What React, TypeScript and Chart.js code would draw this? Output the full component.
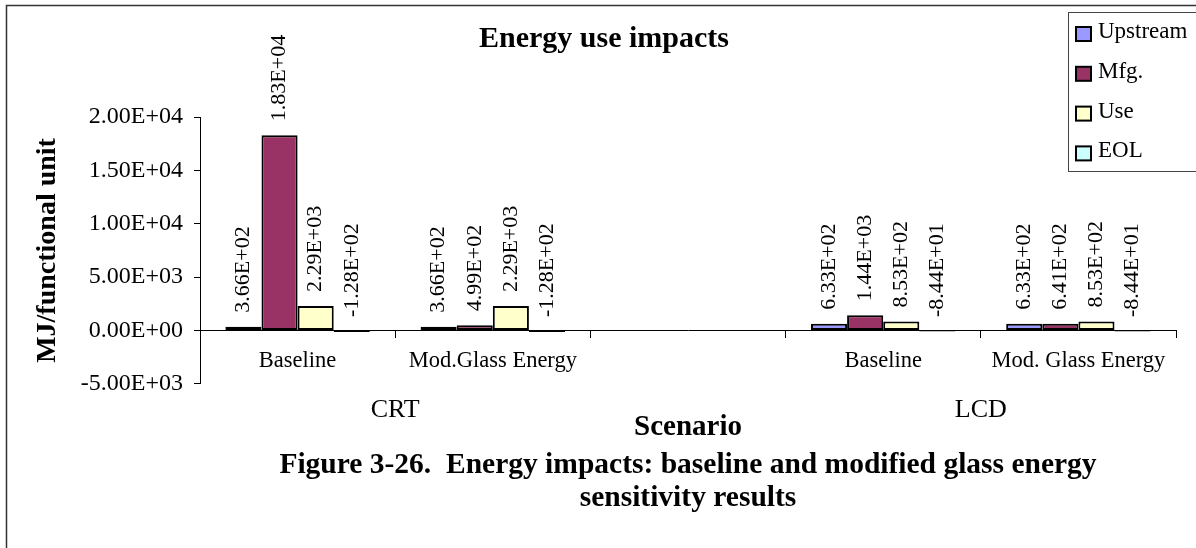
import React, { useEffect, useRef } from "react";
import { Chart, registerables } from "chart.js";

Chart.register(...registerables);

// ---------- data ----------
const categories = ["Baseline", "Mod.Glass Energy", "", "Baseline", "Mod. Glass Energy"];
const groupLabels = ["CRT", "LCD"];
const groupSpans: number[][] = [
  [0, 1],
  [3, 4],
];
const seriesNames = ["Upstream", "Mfg.", "Use", "EOL"];
const upstream = [366, 366, null, 633, 633];
const mfg = [18300, 499, null, 1440, 641];
const use = [2290, 2290, null, 853, 853];
const eol = [-128, -128, null, -84.4, -84.4];
const yTicks = [-5000, 0, 5000, 10000, 15000, 20000];
const seriesColors = ["#9999FF", "#993366", "#FFFFCC", "#CCFFFF"];
const chartTitle = "Energy use impacts";
const yTitle = "MJ/functional unit";
const xTitle = "Scenario";
const caption = [
  "Figure 3-26.  Energy impacts: baseline and modified glass energy",
  "sensitivity results",
];

const FAMILY = '"Liberation Serif", "Times New Roman", serif';

function sci(v: number): string {
  const [m, e] = v.toExponential(2).split("e");
  const sign = e[0] === "-" ? "-" : "+";
  const digits = e.replace(/^[+-]/, "").padStart(2, "0");
  return `${m}E${sign}${digits}`;
}

const groupCenter = (span: number[]) => (span[0] + span[1] + 1) / 2;

const decorPlugin = {
  id: "decor",
  beforeDraw(chart: any) {
    const ctx = chart.ctx;
    ctx.save();
    ctx.fillStyle = "#fff";
    ctx.fillRect(0, 0, chart.width, chart.height);
    ctx.strokeStyle = "#333";
    ctx.lineWidth = 1.5;
    ctx.strokeRect(6.5, 5.5, chart.width + 50, chart.height + 50);
    ctx.restore();
  },
  afterDatasetsDraw(chart: any) {
    const ctx = chart.ctx;
    ctx.save();
    ctx.font = `22px ${FAMILY}`;
    ctx.fillStyle = "#000";
    ctx.textAlign = "left";
    ctx.textBaseline = "middle";
    chart.data.datasets.forEach((ds: any, i: number) => {
      const meta = chart.getDatasetMeta(i);
      meta.data.forEach((el: any, j: number) => {
        const v = ds.data[j];
        if (v == null) return;
        const { x, y, base } = el.getProps(["x", "y", "base"], true);
        const top = Math.min(y, base);
        ctx.save();
        ctx.translate(x, top - 14);
        ctx.rotate(-Math.PI / 2);
        ctx.fillText(sci(v), 0, 0);
        ctx.restore();
      });
    });
    ctx.restore();
  },
  afterDraw(chart: any) {
    const ctx = chart.ctx;
    ctx.save();
    ctx.strokeStyle = "#444";
    ctx.lineWidth = 1;
    ctx.strokeRect(1068.5, 12.5, 200, 159);
    ctx.font = `23px ${FAMILY}`;
    ctx.textAlign = "left";
    ctx.textBaseline = "alphabetic";
    chart.data.datasets.forEach((ds: any, i: number) => {
      const cy = 34 + i * 39.8;
      ctx.fillStyle = ds.backgroundColor;
      ctx.fillRect(1076, cy - 7, 15, 14);
      ctx.lineWidth = 2;
      ctx.strokeStyle = "#000";
      ctx.strokeRect(1076, cy - 7, 15, 14);
      ctx.fillStyle = "#000";
      ctx.fillText(ds.label, 1098, cy + 4);
    });
    ctx.restore();
  },
};

export default function App() {
  const ref = useRef<HTMLCanvasElement>(null);

  useEffect(() => {
    if (!ref.current) return;
    Chart.defaults.font.family = FAMILY;
    Chart.defaults.color = "#000";
    const seriesData = [upstream, mfg, use, eol];
    const chart = new Chart(ref.current, {
      type: "bar",
      data: {
        labels: categories,
        datasets: seriesNames.map((name, i) => ({
          label: name,
          data: seriesData[i],
          backgroundColor: seriesColors[i],
          borderColor: "#000",
          borderWidth: 2,
          borderSkipped: false,
          categoryPercentage: 0.74,
          barPercentage: 1,
        })),
      },
      options: {
        responsive: false,
        animation: false,
        devicePixelRatio: 1,
        layout: { padding: { left: 32, right: 20, top: 10, bottom: 33 } },
        plugins: {
          legend: { display: false },
          tooltip: { enabled: false },
          title: {
            display: true,
            text: chartTitle,
            color: "#000",
            font: { family: FAMILY, size: 30, weight: "bold", lineHeight: 1.2 },
            padding: { top: 11, bottom: 60 },
          },
          subtitle: {
            display: true,
            position: "bottom",
            fullSize: false,
            text: caption,
            color: "#000",
            font: { family: FAMILY, size: 29.5, weight: "bold", lineHeight: 1.12 },
            padding: { top: 6.5, bottom: 0 },
          },
        },
        scales: {
          x: {
            type: "category",
            position: { y: 0 },
            offset: true,
            grid: {
              offset: true,
              drawOnChartArea: false,
              drawTicks: true,
              tickLength: 7,
              color: "#000",
              lineWidth: 1,
            },
            border: { display: true, color: "#000", width: 1 },
            ticks: {
              color: "#000",
              font: { family: FAMILY, size: 22.5 },
              padding: 10,
              maxRotation: 0,
              autoSkip: false,
            },
            afterFit: (s: any) => {
              s.height = 0;
            },
          },
          x2: {
            type: "linear",
            axis: "x",
            position: "bottom",
            offset: false,
            min: 0,
            max: categories.length,
            afterBuildTicks: (s: any) => {
              s.ticks = groupSpans.map((sp) => ({ value: groupCenter(sp) }));
            },
            grid: { display: false, drawTicks: false, tickLength: 0, offset: false },
            border: { display: false },
            ticks: {
              color: "#000",
              font: { family: FAMILY, size: 26, lineHeight: 1 },
              padding: 13,
              maxRotation: 0,
              autoSkip: false,
              callback: (v: any) => {
                const i = groupSpans.findIndex((sp) => groupCenter(sp) === v);
                return i >= 0 ? groupLabels[i] : "";
              },
            },
            title: {
              display: true,
              text: xTitle,
              color: "#000",
              font: { family: FAMILY, size: 29, weight: "bold", lineHeight: 1 },
              padding: { top: -22.5, bottom: 0 },
            },
          },
          y: {
            type: "linear",
            position: "left",
            min: yTicks[0],
            max: yTicks[yTicks.length - 1],
            afterBuildTicks: (s: any) => {
              s.ticks = yTicks.map((v) => ({ value: v }));
            },
            grid: {
              drawOnChartArea: false,
              drawTicks: true,
              tickLength: 6,
              color: "#000",
            },
            border: { display: true, color: "#000", width: 1 },
            ticks: {
              color: "#000",
              font: { family: FAMILY, size: 24 },
              padding: 11,
              callback: (v: any) => sci(Number(v)),
            },
            title: {
              display: true,
              text: yTitle,
              color: "#000",
              font: { family: FAMILY, size: 28, weight: "bold", lineHeight: 1 },
              padding: { top: 2, bottom: 0 },
            },
            afterFit: (s: any) => {
              s.width = 168;
            },
          },
        },
      },
      plugins: [decorPlugin],
    } as any);
    return () => chart.destroy();
  }, []);

  return (
    <div style={{ position: "absolute", left: 0, top: 0, width: 1196, height: 548, background: "#fff" }}>
      <canvas ref={ref} width={1196} height={548} style={{ display: "block", width: 1196, height: 548 }} />
    </div>
  );
}
